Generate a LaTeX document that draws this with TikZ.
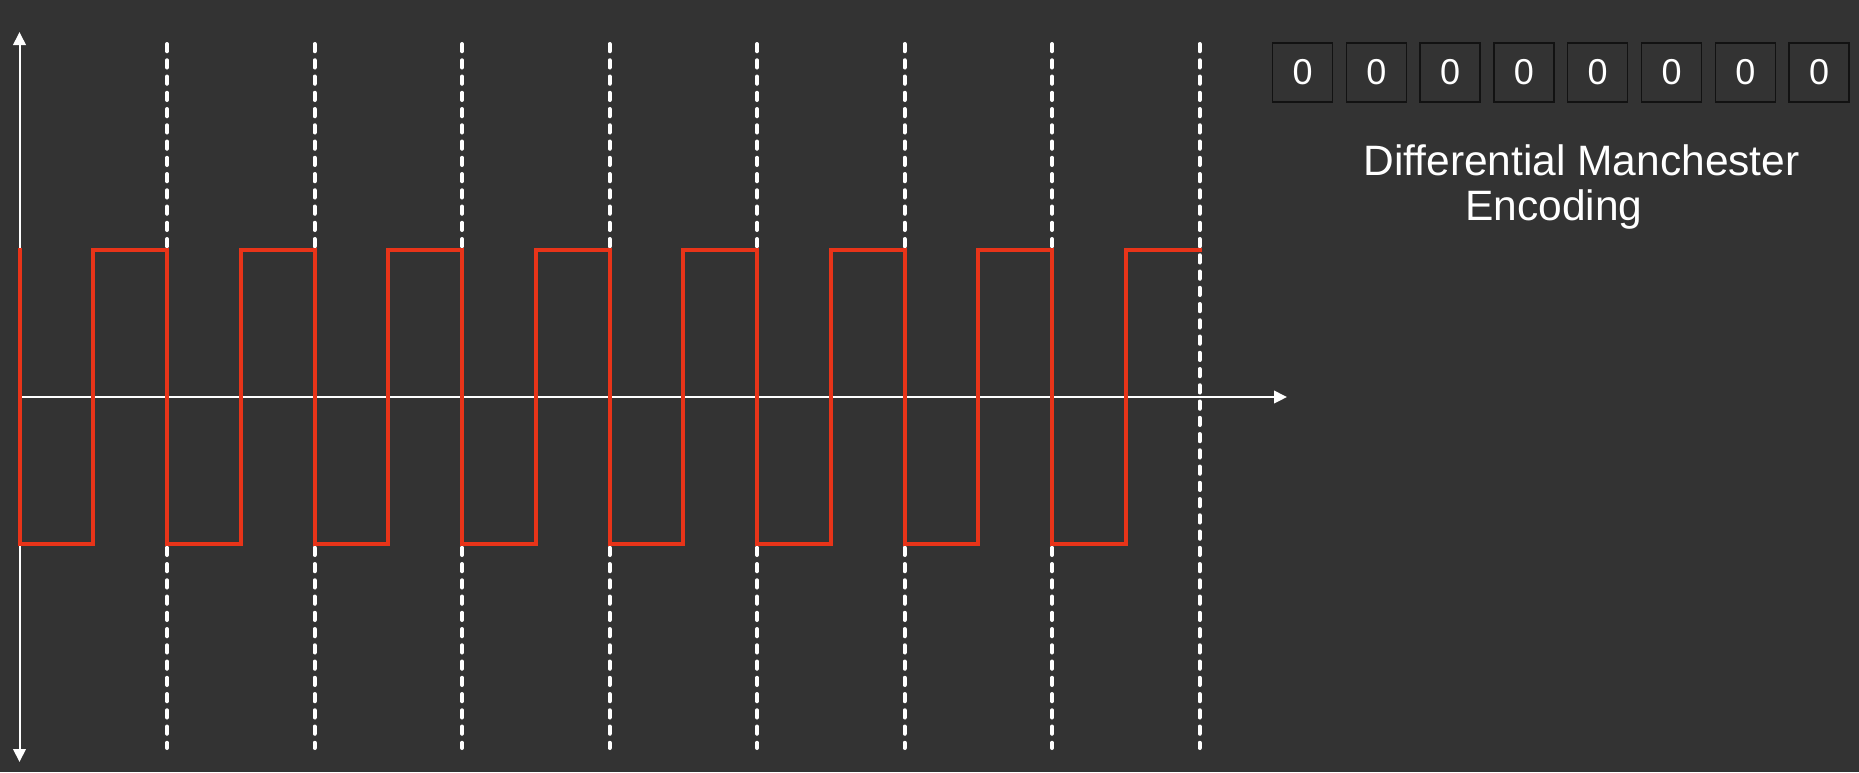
\documentclass[tikz,border=0pt]{standalone}
\usepackage{fontspec}
\setmainfont{Liberation Sans}
\usetikzlibrary{arrows.meta}
\definecolor{bg}{RGB}{51,51,51}
\definecolor{sig}{RGB}{232,52,25}
\definecolor{boxline}{RGB}{18,18,18}
\begin{document}
\begin{tikzpicture}[x=1pt,y=-1pt,
  axis/.style={white, line width=2pt},
  tipstyle/.style={-{Triangle[length=13pt,width=12.5pt]}},
  bothtips/.style={{Triangle[length=13pt,width=12.5pt]}-{Triangle[length=13pt,width=12.5pt]}},
  gridline/.style={white, line width=4pt, line cap=round, dash pattern=on 7.25pt off 9pt},
  signal/.style={sig, line width=4pt, line cap=rect, line join=miter},
  bitbox/.style={draw=boxline, line width=1.5pt, minimum width=60pt, minimum height=59pt, inner sep=0pt, text=white, font=\fontsize{36}{36}\selectfont},
  titletext/.style={text=white, inner sep=0pt, anchor=base, font=\fontsize{42.5}{45}\selectfont}]
\fill[bg] (0,0) rectangle (1859,772);
\useasboundingbox (0,0) rectangle (1859,772);
% dashed bit boundaries
\foreach \k in {1,...,8}{
  \coordinate (gt\k) at ({19.5+147.5*\k},44);
  \coordinate (gb\k) at ({19.5+147.5*\k},748);
  \draw[gridline] (gt\k) -- (gb\k);
}
% axes
\coordinate (vtop) at (19.5,32);
\coordinate (vbot) at (19.5,762);
\coordinate (hl) at (19.5,397);
\coordinate (hr) at (1287,397);
\draw[axis, bothtips] (vbot) -- (vtop);
\draw[axis, tipstyle] (hl) -- (hr);
% signal
\draw[signal] (19.5,250)
  \foreach \k in {0,...,7}{
    -- ({19.5+147.5*\k},544) -- ({93.25+147.5*\k},544)
    -- ({93.25+147.5*\k},250) -- ({167+147.5*\k},250)
  };
% bit boxes
\foreach \k in {0,...,7}{
  \node[bitbox] (b\k) at ({1302.5+73.8*\k},72.5) {0};
}
% title
\node[titletext] (t1) at (1581.5,175) {Differential Manchester};
\node[titletext] (t2) at (1554,220) {Encoding};
\end{tikzpicture}
\end{document}
